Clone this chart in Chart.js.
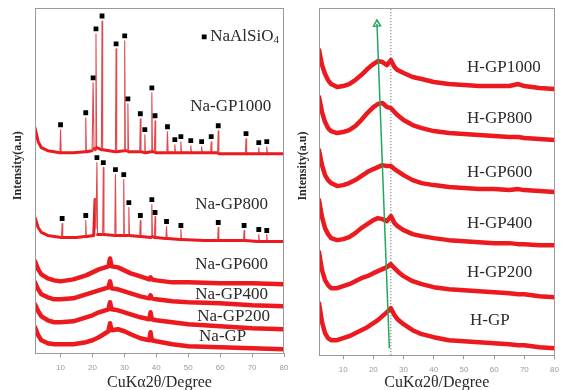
<!DOCTYPE html>
<html><head><meta charset="utf-8">
<script src="https://cdn.jsdelivr.net/npm/chart.js@4.4.0/dist/chart.umd.min.js"></script>
<style>
html,body{margin:0;padding:0;background:#fff;}
#wrap{position:relative;width:565px;height:390px;overflow:hidden;background:#fff;}
canvas{position:absolute;left:0;top:0;}
</style></head><body>
<div id="wrap"><canvas id="cL" width="565" height="390"></canvas><canvas id="cR" width="565" height="390"></canvas></div>
<script>
// ---------- data (2θ in degrees, intensity in a.u. with stacking offsets) ----------
const tickLabels = [10, 20, 30, 40, 50, 60, 70, 80];

// left panel: amorphous patterns on a shared 2θ grid
const xLeft = [2,3,4,6,8,10,14,18,20,22,24,25,25.5,26,28,30,32,35,37.8,38.2,38.6,40,45,50,60,70,80];
const naGP    = [26,18,13,10,9,9,9,11,13,16,20,22,30,23,24,22,19,15,13,21,13,12,9,7,6,5,4];
const naGP200 = [49,42,37,33,31,31,32,36,38,41,43,44,51,44,43,41,39,36,34,41,34,33,31,29,27,25,24];
const naGP400 = [71,64,59,56,54,54,55,59,61,63,65,66,72,65,64,62,60,57,55,58,55,54,52,51,50,48,47];
const naGP600 = [92,84,79,75,73,72,74,78,81,84,86,87,95,87,86,83,80,77,74,76,74,73,71,71,70,70,69];

// left panel: crystalline patterns as [2θ, intensity] pairs
const naGP800 = [[2,136],[3,126],[4,121],[6,118],[8,117],[10.3,116],[10.5,130],[10.7,116],[15,116],[17.7,117],[17.9,133],[18.1,117],[20.4,118],[20.8,154],[21.1,125],[21.4,191],[21.6,119],[23.2,119],[23.4,186],[23.6,119],[27.0,118],[27.2,179],[27.4,118],[29.6,118],[29.8,174],[30.0,118],[31.2,118],[31.4,146],[31.6,118],[34.8,117],[35.0,133],[35.2,117],[38.4,116],[38.6,149],[38.8,117],[39.4,116],[39.6,137],[39.8,116],[43.0,115],[43.2,127],[43.4,115],[47.5,114],[47.7,124],[47.9,114],[55,113],[59.2,113],[59.4,126],[59.6,113],[67.3,113],[67.5,123],[67.7,113],[71.9,112],[72.1,119],[72.3,112],[74.4,112],[74.6,119],[74.8,112],[80,112]];
const naGP1000 = [[2,226],[3,212],[4,206],[6,203],[8,202],[9.8,201],[10,224],[10.2,201],[14,201],[17.7,202],[17.9,236],[18.1,202],[19.9,203],[20.2,271],[20.5,205],[20.9,204],[21.1,320],[21.3,206],[22.8,204],[23.0,333],[23.2,204],[27.2,202],[27.4,305],[27.6,202],[29.9,203],[30.1,313],[30.3,203],[30.9,203],[31.1,250],[31.3,202],[34.8,202],[35.0,235],[35.2,202],[36.2,201],[36.4,219],[36.6,201],[38.4,202],[38.6,261],[38.8,202],[39.4,202],[39.6,233],[39.8,201],[43.3,201],[43.5,222],[43.7,201],[45.6,201],[45.8,209],[46.0,201],[47.5,201],[47.7,212],[47.9,201],[50.6,201],[50.8,208],[51.0,201],[54.0,201],[54.2,207],[54.4,201],[57.0,201],[57.2,212],[57.4,201],[59.2,201],[59.4,223],[59.6,200],[65,200],[67.9,200],[68.1,215],[68.3,200],[71.9,200],[72.1,206],[72.3,200],[74.4,200],[74.6,207],[74.8,200],[80,200]];

// NaAlSiO4 reflection markers
const markerX = [10.0,17.9,20.2,21.1,23.0,27.4,30.1,31.1,35.0,36.4,38.6,39.6,43.5,45.8,47.7,50.8,54.2,57.2,59.4,68.1,72.1,74.6,
                 10.5,17.9,21.4,23.4,27.2,29.8,31.4,35.0,38.6,39.6,43.2,47.7,59.4,67.5,72.1,74.6];
const markerY = [229,241,276,325,338,310,318,255,240,224,266,238,227,214,217,213,212,217,228,220,211,212,
                 135,138,196,191,184,179,151,138,154,141,132,128,131,128,124,123];
const legendMarker = [55.0, 317];

const leftNames = ['Na-GP1000','Na-GP800','Na-GP600','Na-GP400','Na-GP200','Na-GP'];
const leftLabelX = [50.6, 52.2, 52.2, 52.2, 52.8, 53.4];
const leftLabelY = [247, 149, 89, 59, 37, 17];

// right panel: shared 2θ grid
const xRight = [2,3,4,5,6,8,10,12,14,16,18,20,21.5,23,24.5,25.8,27,28,30,33,36,40,45,50,55,60,65,68,70,75,80];
const hGP1000 = [304,289,280,274,270,267,268,270,274,279,285,290,293,292,289,294,287,284,281,277,275,272,270,269,268,268,268,270,268,266,265];
const hGP800  = [257,242,232,226,223,221,222,224,228,234,241,247,250,251,247,246,242,239,234,229,226,223,221,220,219,218,217,217,216,215,214];
const hGP600  = [204,189,179,174,171,168,169,171,174,178,182,185,187,189,188,188,185,183,179,174,171,169,167,166,165,165,164,165,164,163,162];
const hGP400  = [154,137,126,120,116,114,115,117,121,126,130,134,136,135,133,138,131,128,124,120,118,116,114,113,112,111,111,110,110,109,109];
const hGP200  = [102,84,74,69,66,66,68,70,73,76,78,81,83,85,87,90,86,83,78,73,70,67,65,64,63,62,61,60,60,58,57];
const hGP     = [51,32,21,16,14,14,16,18,21,24,27,31,34,38,42,46,39,35,30,24,20,17,14,13,12,11,10,9,9,7,6];

const rightNames = ['H-GP1000','H-GP800','H-GP600','H-GP400','H-GP200','H-GP'];
const rightLabelX = [51.0, 51.0, 51.0, 51.0, 51.0, 52.0];
const rightLabelY = [287, 236, 182, 131, 82, 34];

const refLineX = 25.8;            // dotted reference line
const arrowX = [25.3, 21.2];      // green arrow (start, head)
const arrowY = [6, 330];

const yTitle = 'Intensity(a.u)';
const yTitleValue = 188;          // position of the y title along the intensity axis
const xTitle = 'CuKα2θ/Degree';

// ---------- styling / helpers ----------
const RED = '#ec1a1e';
const serif = '"Liberation Serif", "Times New Roman", serif';

const fromGrid = (xs, ys) => xs.map((x, i) => ({x, y: ys[i]}));
const fromPairs = ps => ps.map(p => ({x: p[0], y: p[1]}));

function patternDS(data, w) {
  return {
    type: 'line', data, borderColor: RED, borderWidth: w, pointRadius: 0, tension: 0,
    borderJoinStyle: 'round', borderCapStyle: 'round',
    segment: {
      borderWidth: c => Math.abs(c.p1.x - c.p0.x) < 1.2 ? 1.1 : w,
      borderColor: c => Math.abs(c.p1.x - c.p0.x) < 1.2 ? '#e2484e' : RED
    }
  };
}

const boxPlugin = {
  id: 'box',
  afterDraw(chart) {
    const a = chart.chartArea, c = chart.ctx;
    c.save(); c.strokeStyle = '#9a9a9a'; c.lineWidth = 1;
    c.strokeRect(Math.round(a.left) + 0.5, Math.round(a.top) + 0.5, Math.round(a.right - a.left) - 1, Math.round(a.bottom - a.top));
    c.restore();
  }
};

const labelPlugin = {
  id: 'labels',
  afterDatasetsDraw(chart, args, opts) {
    const c = chart.ctx, xs = chart.scales.x, ys = chart.scales.y;
    c.save();
    c.fillStyle = '#2a2a2a';
    c.textBaseline = 'middle'; c.textAlign = 'left';
    opts.items.forEach(it => {
      const px = xs.getPixelForValue(it.x), py = ys.getPixelForValue(it.y);
      c.font = '17px ' + serif;
      c.fillText(it.text, px, py);
      if (it.sub) {
        const w = c.measureText(it.text).width;
        c.font = '11px ' + serif;
        c.fillText(it.sub, px + w, py + 3);
      }
    });
    // rotated y-axis title
    c.font = 'bold 12px ' + serif;
    c.textAlign = 'center';
    c.translate(chart.chartArea.left - opts.yTitleGap, ys.getPixelForValue(yTitleValue));
    c.rotate(-Math.PI / 2);
    c.fillText(yTitle, 0, 0);
    c.restore();
  }
};

function axes(yMin, yMax, padTop, padBottom) {
  return {
    x: {
      type: 'linear', min: 2, max: 80,
      afterBuildTicks: s => { s.ticks = tickLabels.map(v => ({value: v})); },
      ticks: {color: '#9a9a9a', font: {family: '"Liberation Sans", Arial, sans-serif', size: 8}, padding: 6, maxRotation: 0, autoSkip: false},
      grid: {display: true, drawOnChartArea: false, drawTicks: true, tickLength: 4, color: '#9a9a9a'},
      border: {display: false},
      title: {display: true, text: xTitle, color: '#2a2a2a', font: {family: serif, size: 16}, padding: {top: padTop, bottom: padBottom}}
    },
    y: {min: yMin, max: yMax, display: false}
  };
}

const common = {
  responsive: false, animation: false, devicePixelRatio: 1,
  events: [],
};

// ---------- left chart ----------
const leftLabels = leftNames.map((t, i) => ({text: t, x: leftLabelX[i], y: leftLabelY[i]}));
leftLabels.push({text: 'NaAlSiO', sub: '4', x: legendMarker[0] + 1.9, y: legendMarker[1]});

new Chart(document.getElementById('cL'), {
  type: 'line',
  data: {
    datasets: [
      {type: 'scatter', data: markerX.map((x, i) => ({x, y: markerY[i]})).concat([{x: legendMarker[0], y: legendMarker[1]}]),
       pointStyle: 'rect', pointRadius: 3.4, backgroundColor: '#000', borderColor: '#000', borderWidth: 0, showLine: false},
      patternDS(fromPairs(naGP1000), 3),
      patternDS(fromPairs(naGP800), 3),
      patternDS(fromGrid(xLeft, naGP600), 4.5),
      patternDS(fromGrid(xLeft, naGP400), 4.5),
      patternDS(fromGrid(xLeft, naGP200), 4.5),
      patternDS(fromGrid(xLeft, naGP), 4.5)
    ]
  },
  options: Object.assign({}, common, {
    layout: {padding: {left: 35, right: 281, top: 8, bottom: 0}},
    scales: axes(0, 346, -6, -2),
    plugins: {legend: {display: false}, tooltip: {enabled: false}, labels: {items: leftLabels, yTitleGap: 17}}
  }),
  plugins: [boxPlugin, labelPlugin]
});

// ---------- right chart ----------
const rightLabels = rightNames.map((t, i) => ({text: t, x: rightLabelX[i], y: rightLabelY[i]}));

new Chart(document.getElementById('cR'), {
  type: 'line',
  data: {
    datasets: [
      {type: 'line', data: [{x: arrowX[0], y: arrowY[0]}, {x: arrowX[1], y: arrowY[1]}],
       borderColor: '#22a85a', borderWidth: 1.5, pointRadius: [0, 4], pointStyle: 'triangle', rotation: -2,
       pointBackgroundColor: 'rgba(0,0,0,0)', pointBorderColor: '#22a85a', pointBorderWidth: 1.5},
      {type: 'line', data: [{x: refLineX, y: -1}, {x: refLineX, y: 346}],
       borderColor: '#555', borderWidth: 1, borderDash: [1, 2], pointRadius: 0},
      patternDS(fromGrid(xRight, hGP1000), 4.5),
      patternDS(fromGrid(xRight, hGP800), 4.5),
      patternDS(fromGrid(xRight, hGP600), 4.5),
      patternDS(fromGrid(xRight, hGP400), 4.5),
      patternDS(fromGrid(xRight, hGP200), 4.5),
      patternDS(fromGrid(xRight, hGP), 4.5)
    ]
  },
  options: Object.assign({}, common, {
    layout: {padding: {left: 319, right: 6, top: 8, bottom: 0}},
    scales: axes(-1, 346, -8, -2),
    plugins: {legend: {display: false}, tooltip: {enabled: false}, labels: {items: rightLabels, yTitleGap: 16}}
  }),
  plugins: [boxPlugin, labelPlugin]
});
</script>
</body></html>
